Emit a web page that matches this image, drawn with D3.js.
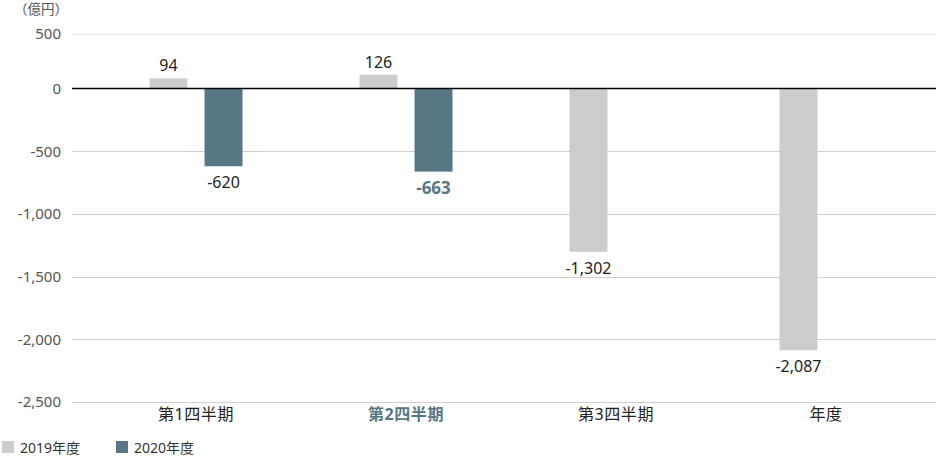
<!DOCTYPE html>
<html lang="ja">
  <head>
    <meta charset="UTF-8" />
    <title>営業損益</title>
    <script src="https://d3js.org/d3.v7.min.js"></script>
    <style>
      body {
        margin: 0;
        background: #fff;
      }
      svg {
        display: block;
        font-family: "Noto Sans", "Noto Sans CJK JP", sans-serif;
      }
    </style>
  </head>
  <body>
    <svg width="936" height="456"></svg>
    <script>
      const categories = ["第1四半期", "第2四半期", "第3四半期", "年度"];
      const seriesNames = ["2019年度", "2020年度"];
      const values2019 = [94, 126, -1302, -2087];
      const values2020 = [-620, -663, null, null];
      const tickValues = [500, 0, -500, -1000, -1500, -2000, -2500];
      const unitLabel = "（億円）";
      const highlight = "第2四半期";

      const colors = { "2019年度": "#cccccc", "2020年度": "#587784" };
      const fmt = (v) => d3.format(",")(v).replace("\u2212", "-");

      const svg = d3.select("svg");

      const X = d3.scaleBand().domain(categories).range([91, 931]);
      const inner = d3
        .scaleBand()
        .domain(seriesNames)
        .range([-46.5, 46.5])
        .paddingInner(0.31);
      // the top grid step is drawn shorter in the original, so use a polylinear scale
      const Y = d3.scaleLinear().domain([-2500, 0, 500]).range([402, 88.5, 34]);

      // grid lines (below bars)
      svg
        .append("g")
        .selectAll("line")
        .data(tickValues.filter((d) => d !== 0))
        .enter()
        .append("line")
        .attr("x1", 72)
        .attr("x2", 936)
        .attr("y1", (d) => Math.round(Y(d)) + 0.5)
        .attr("y2", (d) => Math.round(Y(d)) + 0.5)
        .attr("stroke", (d) => (d === 500 ? "#e6e6e6" : "#cfcfcf"));

      const rows = categories.map((c, i) => ({
        cat: c,
        vals: [
          { s: "2019年度", v: values2019[i] },
          { s: "2020年度", v: values2020[i] },
        ].filter((d) => d.v !== null),
      }));

      const groups = svg
        .selectAll(".grp")
        .data(rows)
        .enter()
        .append("g")
        .attr("class", "grp")
        .attr("transform", (d) => `translate(${X(d.cat) + X.bandwidth() / 2},0)`);

      groups
        .selectAll("rect")
        .data((d) => d.vals)
        .enter()
        .append("rect")
        .attr("x", (d) => inner(d.s))
        .attr("width", inner.bandwidth())
        .attr("y", (d) => Y(Math.max(0, d.v)))
        .attr("height", (d) => Math.abs(Y(d.v) - Y(0)))
        .attr("fill", (d) => colors[d.s]);

      groups
        .selectAll("text.val")
        .data((d) => d.vals.map((v) => ({ ...v, cat: d.cat })))
        .enter()
        .append("text")
        .attr("class", "val")
        .attr("x", (d) => inner(d.s) + inner.bandwidth() / 2)
        .attr("y", (d) => (d.v >= 0 ? Y(d.v) - 7 : Y(d.v) + 22))
        .attr("text-anchor", "middle")
        .style("font-size", (d) => (d.cat === highlight && d.s === "2020年度" ? "17px" : "16px"))
        .style("font-weight", (d) => (d.cat === highlight && d.s === "2020年度" ? "bold" : "normal"))
        .attr("fill", (d) => (d.cat === highlight && d.s === "2020年度" ? "#587784" : "#222"))
        .text((d) => fmt(d.v));

      // y axis labels + zero line
      const yAxis = svg
        .append("g")
        .attr("transform", "translate(72,0)")
        .call(d3.axisLeft(Y).tickValues(tickValues).tickSize(0).tickPadding(11).tickFormat(fmt));
      yAxis.select(".domain").remove();
      yAxis.selectAll(".tick line").remove();
      yAxis
        .selectAll(".tick text")
        .attr("fill", "#555")
        .style("font-size", "15px")
        .style("font-family", "'Noto Sans', sans-serif");

      svg
        .append("line")
        .attr("x1", 72)
        .attr("x2", 936)
        .attr("y1", Y(0))
        .attr("y2", Y(0))
        .attr("stroke", "#000")
        .attr("stroke-width", 1.3);

      svg
        .append("text")
        .attr("x", 14)
        .attr("y", 14)
        .attr("fill", "#555")
        .style("font-size", "13.5px")
        .text(unitLabel);

      // x labels
      svg
        .append("g")
        .selectAll("text")
        .data(categories)
        .enter()
        .append("text")
        .attr("x", (d) => X(d) + X.bandwidth() / 2)
        .attr("y", 420)
        .attr("text-anchor", "middle")
        .style("font-size", "16px")
        .style("letter-spacing", "0.6px")
        .style("font-weight", (d) => (d === highlight ? "bold" : "normal"))
        .attr("fill", (d) => (d === highlight ? "#587784" : "#222"))
        .text((d) => d);

      // legend
      const legend = svg
        .append("g")
        .selectAll("g")
        .data(seriesNames)
        .enter()
        .append("g")
        .attr("transform", (d, i) => `translate(${2 + i * 114},441)`);
      legend
        .append("rect")
        .attr("width", 12)
        .attr("height", 12)
        .attr("fill", (d) => colors[d]);
      legend
        .append("text")
        .attr("x", 18)
        .attr("y", 12)
        .attr("fill", "#333")
        .style("font-size", "14px")
        .text((d) => d);
    </script>
  </body>
</html>
